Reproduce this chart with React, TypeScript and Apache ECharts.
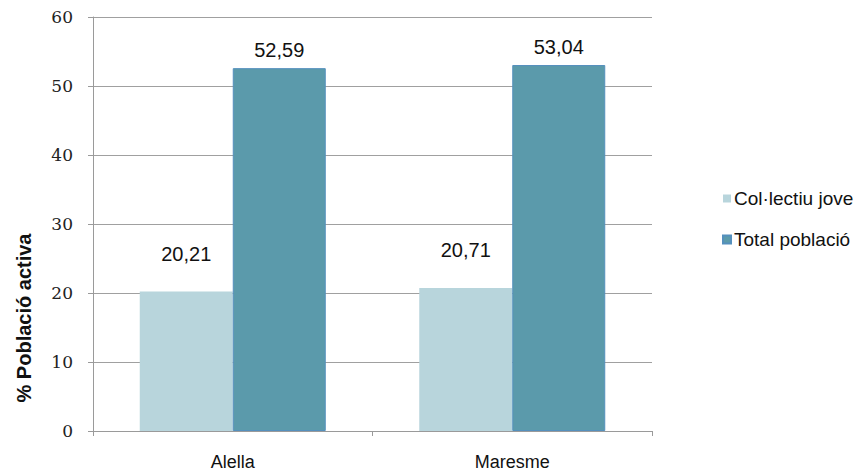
import React, { useEffect, useRef } from "react";
import * as echarts from "echarts";

const categories = ["Alella", "Maresme"];
const seriesNames = ["Col·lectiu jove", "Total població"];
const jove = [20.21, 20.71];
const total = [52.59, 53.04];
const yTicks = [0, 10, 20, 30, 40, 50, 60];

export default function App() {
  const ref = useRef<HTMLDivElement>(null);
  useEffect(() => {
    const chart = echarts.init(ref.current!, null, { renderer: "svg" });
    const fmt = (p: any) => Number(p.value).toFixed(2).replace(".", ",");
    chart.setOption({
      animation: false,
      backgroundColor: "#ffffff",
      grid: { left: 93, right: 211, top: 17, bottom: 45 },
      legend: {
        orient: "vertical",
        left: 717,
        top: 184,
        itemWidth: 8,
        itemHeight: 8,
        itemGap: 22,
        icon: "rect",
        textStyle: { fontFamily: "Liberation Sans, Arial", fontSize: 19, color: "#111", padding: [0, 0, 0, -2] },
        data: seriesNames,
      },
      xAxis: {
        type: "category",
        data: categories,
        axisLine: { lineStyle: { color: "#9a9a9a", width: 1 } },
        axisTick: { show: true, length: 5, lineStyle: { color: "#9a9a9a" } },
        axisLabel: { fontFamily: "Liberation Sans, Arial", fontSize: 18, color: "#111", margin: 22 },
      },
      yAxis: {
        type: "value",
        min: yTicks[0],
        max: yTicks[yTicks.length - 1],
        interval: 10,
        axisLine: { show: true, lineStyle: { color: "#9a9a9a" } },
        axisTick: { show: true, length: 5, lineStyle: { color: "#9a9a9a" } },
        splitLine: { lineStyle: { color: "#a0a0a0", width: 1 } },
        axisLabel: { fontFamily: "DejaVu Serif, serif", fontSize: 17, color: "#222", margin: 20 },
      },
      graphic: [
        {
          type: "text",
          x: 24,
          y: 318,
          rotation: Math.PI / 2,
          style: {
            text: "% Població activa",
            fontFamily: "Liberation Sans, Arial",
            fontWeight: "bold",
            fontSize: 20,
            fill: "#111",
            textAlign: "center",
            textVerticalAlign: "middle",
          },
        },
      ],
      series: [
        {
          name: seriesNames[0],
          type: "bar",
          data: jove,
          barWidth: 93,
          barGap: "0%",
          itemStyle: { color: "#b8d5dc" },
          label: {
            show: true,
            position: "top",
            distance: 28,
            formatter: fmt,
            fontFamily: "Liberation Sans, Arial",
            fontSize: 20,
            color: "#111",
          },
        },
        {
          name: seriesNames[1],
          type: "bar",
          data: total,
          barWidth: 93,
          barGap: "0%",
          itemStyle: { color: "#5b9aab", borderColor: "#5590bd", borderWidth: 1 },
          label: {
            show: true,
            position: "top",
            distance: 8,
            formatter: fmt,
            fontFamily: "Liberation Sans, Arial",
            fontSize: 20,
            color: "#111",
          },
        },
      ],
    });
    return () => chart.dispose();
  }, []);
  return <div ref={ref} style={{ width: 863, height: 476, position: "absolute", left: 0, top: 0 }} />;
}
